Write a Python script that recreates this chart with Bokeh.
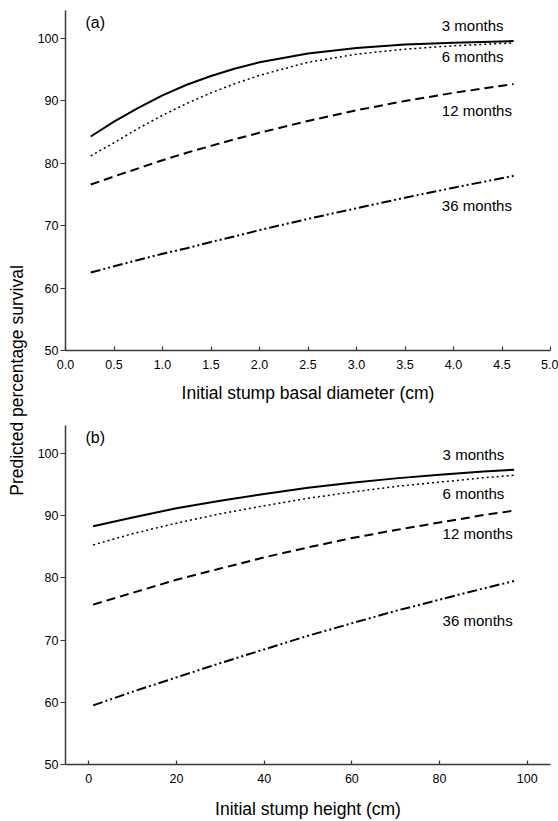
import math
from bokeh.plotting import figure
from bokeh.models import Range1d, FixedTicker, Label, ColumnDataSource
from bokeh.layouts import row, column
from bokeh.core.properties import value
from bokeh.embed import file_html
from bokeh.resources import INLINE

# ---------------- data ----------------
diam = [0.26, 0.5, 0.75, 1.0, 1.25, 1.5, 1.75, 2.0, 2.5, 3.0, 3.5, 4.0, 4.62]
a_3m = [84.3, 86.7, 88.9, 90.9, 92.6, 94.0, 95.2, 96.2, 97.6, 98.5, 99.05, 99.35, 99.6]
a_6m = [81.2, 83.3, 85.6, 87.7, 89.6, 91.3, 92.8, 94.1, 96.2, 97.5, 98.3, 98.85, 99.3]
a_12m = [76.6, 77.9, 79.2, 80.5, 81.7, 82.8, 83.9, 84.9, 86.8, 88.5, 90.0, 91.3, 92.7]
a_36m = [62.5, 63.5, 64.5, 65.5, 66.4, 67.4, 68.3, 69.3, 71.1, 72.8, 74.5, 76.1, 78.0]

height = [1, 10, 20, 30, 40, 50, 60, 70, 80, 90, 97]
b_3m = [88.3, 89.7, 91.2, 92.4, 93.5, 94.5, 95.3, 96.0, 96.6, 97.1, 97.4]
b_6m = [85.3, 87.1, 88.8, 90.3, 91.6, 92.8, 93.8, 94.7, 95.4, 96.1, 96.5]
b_12m = [75.7, 77.6, 79.7, 81.5, 83.3, 84.9, 86.4, 87.7, 88.9, 90.1, 90.8]
b_36m = [59.5, 61.7, 64.0, 66.3, 68.5, 70.7, 72.7, 74.7, 76.5, 78.3, 79.5]

series_names = ["3 months", "6 months", "12 months", "36 months"]
y_ticks = [50, 60, 70, 80, 90, 100]
x_ticks_a = [0.0, 0.5, 1.0, 1.5, 2.0, 2.5, 3.0, 3.5, 4.0, 4.5, 5.0]
x_ticks_b = [0, 20, 40, 60, 80, 100]

# label anchor positions (data coordinates)
lab_y_a = [102.1, 97.2, 88.5, 73.2]
lab_y_b = [99.8, 93.5, 87.1, 73.1]
lab_x_a = 3.88
lab_x_b = 80.7

FONT = "Liberation Sans"
AXC = "#3a3a3a"
styles = [
    dict(line_dash="solid", line_width=2.0),
    dict(line_dash="2 3", line_width=1.5),
    dict(line_dash="9 5", line_width=2.0),
    dict(line_dash="10 3 2 3 2 3", line_width=2.0),
]


def make_panel(xs, ys_list, xr, xticks, xlabel, tag, lab_x, lab_ys, h, bottom,
               xfmt, lab_standoff):
    p = figure(width=528, height=h, output_backend="svg", toolbar_location=None,
               x_range=Range1d(*xr), y_range=Range1d(50, 104.5),
               min_border_left=35, min_border_right=8, min_border_top=10,
               min_border_bottom=bottom)
    p.outline_line_color = None
    p.xgrid.visible = False
    p.ygrid.visible = False
    p.background_fill_color = "white"
    p.border_fill_color = "white"
    for ys, st in zip(ys_list, styles):
        p.line(xs, ys, line_color="black", line_cap="butt", **st)
    src = ColumnDataSource(dict(x=[lab_x] * 4, y=lab_ys, t=series_names))
    p.text(x="x", y="y", text="t", source=src, text_font=value(FONT),
           text_font_size="15px", text_align="left", text_baseline="middle",
           text_color="black")
    p.add_layout(Label(x=xr[0], y=104.5, x_offset=20, y_offset=-12, text=tag,
                       text_font=FONT, text_font_size="16px", text_color="black",
                       text_baseline="middle", text_align="left"))
    for ax in (p.xaxis[0], p.yaxis[0]):
        ax.axis_line_color = AXC
        ax.axis_line_width = 1.5
        ax.major_tick_line_color = AXC
        ax.major_tick_line_width = 1.2
        ax.minor_tick_line_color = None
        ax.major_label_text_font = FONT
        ax.major_label_text_font_size = "12.5px"
        ax.major_label_text_color = "black"
    p.yaxis.ticker = FixedTicker(ticks=y_ticks)
    p.yaxis.major_tick_out = 5
    p.yaxis.major_tick_in = 0
    p.yaxis.major_label_standoff = 2
    p.xaxis.ticker = FixedTicker(ticks=xticks)
    p.xaxis.major_tick_out = 0
    p.xaxis.major_tick_in = 4
    p.xaxis.major_label_standoff = 9
    p.xaxis.major_label_overrides = {t: xfmt(t) for t in xticks}
    p.xaxis.axis_label = xlabel
    p.xaxis.axis_label_text_font = FONT
    p.xaxis.axis_label_text_font_size = "17.5px"
    p.xaxis.axis_label_text_font_style = "normal"
    p.xaxis.axis_label_text_color = "black"
    p.xaxis.axis_label_standoff = lab_standoff
    return p


pa = make_panel(diam, [a_3m, a_6m, a_12m, a_36m], (0.0, 5.0), x_ticks_a,
                "Initial stump basal diameter (cm)", "(a)", lab_x_a, lab_y_a,
                415, 65, lambda t: f"{t:.1f}", 11)
pb = make_panel(height, [b_3m, b_6m, b_12m, b_36m], (-5.3, 105.3), x_ticks_b,
                "Initial stump height (cm)", "(b)", lab_x_b, lab_y_b,
                406, 56, lambda t: f"{int(t)}", 13)

lab = figure(width=30, height=821, output_backend="svg", toolbar_location=None,
             x_range=Range1d(0, 30), y_range=Range1d(0, 821),
             x_axis_location=None, y_axis_location=None,
             min_border=0)
lab.outline_line_color = None
lab.xgrid.visible = False
lab.ygrid.visible = False
lab.add_layout(Label(x=16, y=821 - 380, text="Predicted percentage survival",
                     angle=math.pi / 2, text_font=FONT, text_font_size="17.5px",
                     text_color="black",
                     text_align="center", text_baseline="middle"))

layout = row(lab, column(pa, pb))
open("out.html", "w").write(file_html(layout, INLINE))
